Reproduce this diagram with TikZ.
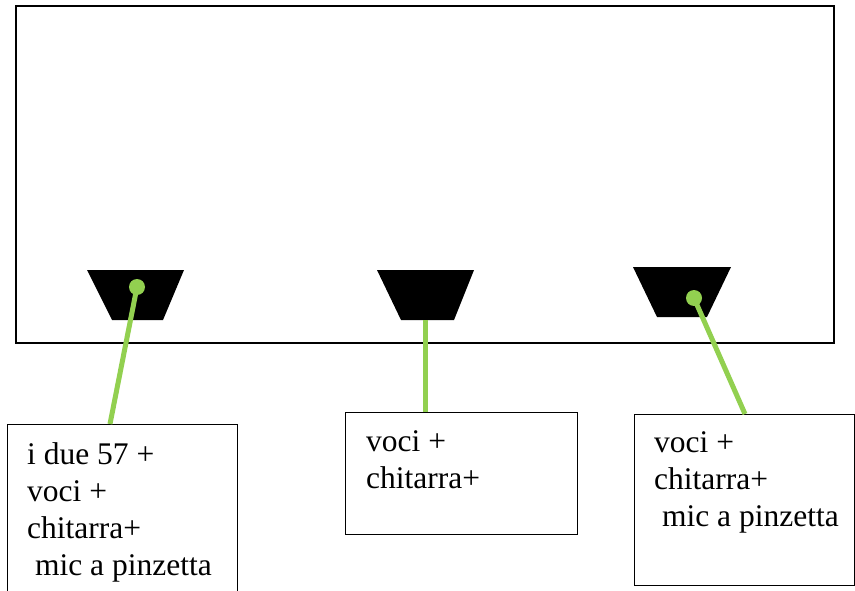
\documentclass[tikz,border=0pt]{standalone}
\usepackage{fontspec}
\setmainfont{Liberation Serif}
\usetikzlibrary{positioning}
\definecolor{micgreen}{HTML}{92D050}
\tikzset{
  stage/.style={draw,line width=1.6pt,anchor=north west,inner sep=0pt},
  labelbox/.style={draw,line width=1.3pt,anchor=north west,inner sep=0pt},
  labeltext/.style={inner sep=0pt,align=left,font=\fontsize{31.5pt}{37pt}\selectfont},
  micdot/.style={circle,fill=micgreen,inner sep=0pt,minimum size=16pt},
  cable/.style={draw=micgreen,line width=5pt}
}
\begin{document}
\begin{tikzpicture}[x=1pt,y=-1pt]
\useasboundingbox (0,0) rectangle (855,591);
% stage
\node[stage,minimum width=818pt,minimum height=337pt] (stage) at (15,5) {};
% microphones
\fill (87,270) -- (184,270) -- (163,320) -- (112,320) -- cycle;
\fill (377,270) -- (474,270) -- (454,320) -- (401,320) -- cycle;
\fill (633,267) -- (731,267) -- (707,317) -- (657,317) -- cycle;
\coordinate (mic2) at (425.5,320);
\node[micdot] (dot1) at (137,287) {};
\node[micdot] (dot3) at (694,298) {};
% boxes
\node[labelbox,minimum width=230pt,minimum height=176pt] (box1) at (7,424) {};
\node[labelbox,minimum width=232pt,minimum height=122pt] (box2) at (345,412) {};
\node[labelbox,minimum width=220pt,minimum height=171pt] (box3) at (634,414) {};
\node[labeltext,below right=18pt and 20pt of box1.north west] (txt1) {i due 57 +\\voci +\\chitarra+\\\ mic a pinzetta};
\node[labeltext,below right=18pt and 21pt of box2.north west] (txt2) {voci +\\chitarra+};
\node[labeltext,below right=17.5pt and 20pt of box3.north west] (txt3) {voci +\\chitarra+\\\ mic a pinzetta};
% cables
\draw[cable] (dot1.center) -- (110,0 |- box1.north);
\draw[cable] (mic2) -- (mic2 |- box2.north);
\draw[cable] (dot3.center) -- (745,0 |- box3.north);
\end{tikzpicture}
\end{document}
